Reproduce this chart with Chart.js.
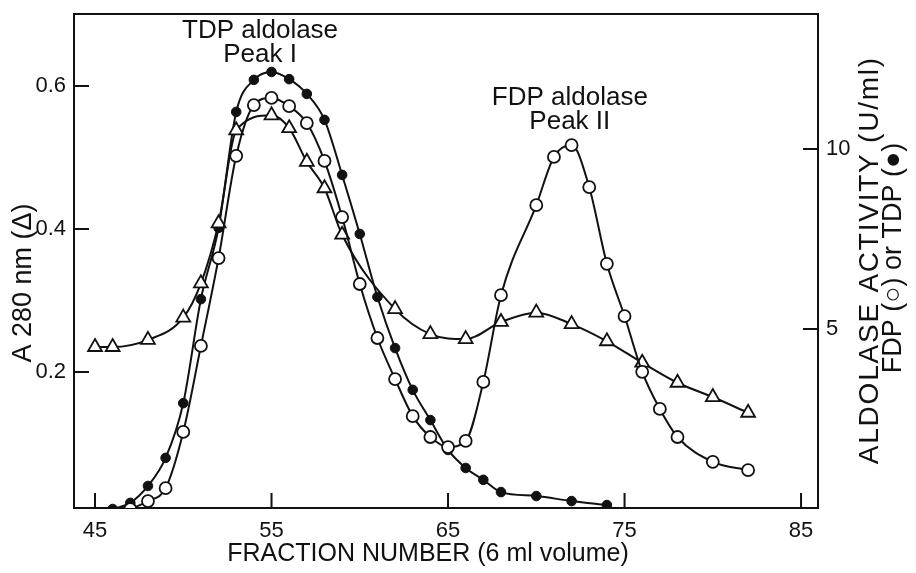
<!DOCTYPE html>
<html>
<head>
<meta charset="utf-8">
<title>Aldolase elution profile</title>
<script src="https://cdn.jsdelivr.net/npm/chart.js@4.4.0/dist/chart.umd.min.js"></script>
<style>
  html, body { margin: 0; padding: 0; background: #fff; }
</style>
</head>
<body>
<canvas id="chart" width="916" height="573"></canvas>
<script>
// readings taken off the published elution profile
const a280Fractions = [45, 46, 48, 50, 51, 52, 53, 55, 56, 57, 58, 59, 62, 64, 66, 68, 70, 72, 74, 76, 78, 80, 82];
const a280Values = [0.235, 0.235, 0.245, 0.276, 0.324, 0.408, 0.538, 0.559, 0.541, 0.494, 0.457, 0.392,
  0.288, 0.253, 0.246, 0.27, 0.283, 0.267, 0.243, 0.213, 0.185, 0.165, 0.143];

const fdpFractions = [47, 48, 49, 50, 51, 52, 53, 54, 55, 56, 57, 58, 59, 60, 61, 62, 63, 64, 65, 66, 67, 68,
  70, 71, 72, 73, 74, 75, 76, 77, 78, 80, 82];
const fdpActivity = [0.0, 0.22, 0.58, 2.14, 4.53, 6.97, 9.81, 11.22, 11.42, 11.19, 10.72, 9.67, 8.11, 6.25,
  4.75, 3.61, 2.58, 2.0, 1.72, 1.89, 3.53, 5.94, 8.44, 9.78, 10.11, 8.94, 6.81, 5.36, 3.81, 2.78, 2.0, 1.31, 1.08];

const tdpFractions = [46, 47, 48, 49, 50, 51, 52, 53, 54, 55, 56, 57, 58, 59, 60, 61, 62, 63, 64, 65, 66, 67, 68,
  70, 72, 74];
const tdpActivity = [0.0, 0.17, 0.64, 1.42, 2.94, 5.83, 7.81, 11.03, 11.92, 12.14, 11.94, 11.53, 10.81, 9.28,
  7.64, 5.89, 4.47, 3.31, 2.47, 1.64, 1.14, 0.81, 0.47, 0.36, 0.22, 0.11];

const xTicks = [45, 55, 65, 75, 85];
const a280Ticks = [0.2, 0.4, 0.6];
const activityTicks = [5, 10];

const FONT = '"Liberation Sans", Arial, Helvetica, sans-serif';
const INK = '#111';

const pairs = (xs, ys) => xs.map((x, i) => ({ x: x, y: ys[i] }));

// peak captions, placed in data units (x = fraction, y = A280)
const peakLabels = [
  { lines: ['TDP aldolase', 'Peak I'], x: 54.35, y: 0.667 },
  { lines: ['FDP aldolase', 'Peak II'], x: 71.9, y: 0.573 }
];

// writes a text centred at (x, y); spread out a little if it falls short of the given length
function putText(ctx, text, x, y, size, length, rotated) {
  ctx.save();
  ctx.font = size + 'px ' + FONT;
  ctx.translate(x, y);
  if (rotated) ctx.rotate(-Math.PI / 2);
  ctx.letterSpacing = '0px';
  const w = ctx.measureText(text).width;
  const gap = length ? Math.max(0, (length - w) / text.length) : 0;
  ctx.letterSpacing = gap.toFixed(2) + 'px';
  ctx.fillText(text, gap / 2, 0);
  ctx.restore();
}

const framePlugin = {
  id: 'frame',
  beforeDatasetsDraw(chart) {
    const ctx = chart.ctx;
    const a = chart.chartArea;
    const tl = 15;
    ctx.save();
    ctx.strokeStyle = INK;
    ctx.lineWidth = 2;
    ctx.beginPath();
    ctx.moveTo(a.left - 1, a.top);
    ctx.lineTo(a.right + 1, a.top);
    const sx = chart.scales.x;
    sx.ticks.forEach(t => {
      const p = sx.getPixelForValue(t.value);
      ctx.moveTo(p, a.bottom);
      ctx.lineTo(p, a.bottom - tl);
    });
    const sy = chart.scales.y;
    sy.ticks.forEach(t => {
      const p = sy.getPixelForValue(t.value);
      ctx.moveTo(a.left, p);
      ctx.lineTo(a.left + tl, p);
    });
    const sy2 = chart.scales.y2;
    sy2.ticks.forEach(t => {
      const p = sy2.getPixelForValue(t.value);
      ctx.moveTo(a.right, p);
      ctx.lineTo(a.right - tl, p);
    });
    ctx.stroke();
    ctx.restore();
  },
  afterDraw(chart) {
    const ctx = chart.ctx;
    ctx.save();
    ctx.fillStyle = INK;
    ctx.textAlign = 'center';
    ctx.textBaseline = 'alphabetic';
    ctx.font = '26px ' + FONT;
    peakLabels.forEach(l => {
      const px = chart.scales.x.getPixelForValue(l.x);
      const py = chart.scales.y.getPixelForValue(l.y);
      l.lines.forEach((s, i) => ctx.fillText(s, px, py + i * 24));
    });

    ctx.textBaseline = 'middle';
    putText(ctx, 'FRACTION NUMBER (6 ml volume)', 428, 554, 25, 400, false);
    putText(ctx, 'A 280 nm (\u0394)', 24, 283, 27, 0, true);
    putText(ctx, 'ALDOLASE ACTIVITY (U/ml)', 870, 261, 28, 408, true);
    putText(ctx, 'FDP (\u25CB) or TDP (\u25CF)', 894, 258, 27, 0, true);
    ctx.restore();
  }
};

const tickFont = { family: FONT, size: 22 };

// keep the plot area where the original frame sits
const noPad = s => { s.paddingTop = 0; s.paddingBottom = 0; s.paddingLeft = 0; s.paddingRight = 0; };

new Chart(document.getElementById('chart'), {
  type: 'line',
  data: {
    datasets: [
      {
        label: 'FDP aldolase',
        data: pairs(fdpFractions, fdpActivity),
        yAxisID: 'y2',
        borderColor: INK,
        borderWidth: 2,
        pointStyle: 'circle',
        pointRadius: 6,
        pointBorderWidth: 1.8,
        pointBackgroundColor: '#fff',
        pointBorderColor: INK,
        cubicInterpolationMode: 'monotone'
      },
      {
        label: 'A280',
        data: pairs(a280Fractions, a280Values),
        yAxisID: 'y',
        borderColor: INK,
        borderWidth: 2,
        pointStyle: 'triangle',
        pointRadius: 8,
        pointBorderWidth: 1.8,
        pointBackgroundColor: '#fff',
        pointBorderColor: INK,
        cubicInterpolationMode: 'monotone'
      },
      {
        label: 'TDP aldolase',
        data: pairs(tdpFractions, tdpActivity),
        yAxisID: 'y2',
        borderColor: INK,
        borderWidth: 2,
        pointStyle: 'circle',
        pointRadius: 4.8,
        pointBorderWidth: 1,
        pointBackgroundColor: INK,
        pointBorderColor: INK,
        cubicInterpolationMode: 'monotone'
      }
    ]
  },
  options: {
    responsive: false,
    animation: false,
    layout: { padding: { top: 14, left: 0, right: 0, bottom: 0 } },
    plugins: { legend: { display: false }, tooltip: { enabled: false } },
    scales: {
      x: {
        type: 'linear',
        min: 43.81,
        max: 85.96,
        afterFit: s => { s.height = 65; noPad(s); },
        afterBuildTicks: s => { s.ticks = xTicks.map(v => ({ value: v })); },
        grid: { display: false, drawTicks: false },
        border: { display: true, color: INK, width: 2 },
        ticks: { color: INK, font: tickFont, padding: 10 }
      },
      y: {
        position: 'left',
        min: 0.0098,
        max: 0.7007,
        afterFit: s => { s.width = 74; noPad(s); },
        afterBuildTicks: s => { s.ticks = a280Ticks.map(v => ({ value: v })); },
        grid: { display: false, drawTicks: false },
        border: { display: true, color: INK, width: 2 },
        ticks: { color: INK, font: tickFont, padding: 8, callback: v => v.toFixed(1) }
      },
      y2: {
        position: 'right',
        min: 0.028,
        max: 13.75,
        afterFit: s => { s.width = 98; noPad(s); },
        afterBuildTicks: s => { s.ticks = activityTicks.map(v => ({ value: v })); },
        grid: { display: false, drawTicks: false },
        border: { display: true, color: INK, width: 2 },
        ticks: { color: INK, font: tickFont, padding: 8 }
      }
    }
  },
  plugins: [framePlugin]
});
</script>
</body>
</html>
